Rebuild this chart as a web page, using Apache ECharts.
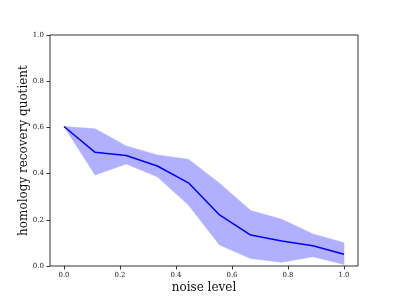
<!DOCTYPE html>
<html>
<head>
<meta charset="utf-8">
<script src="https://cdn.jsdelivr.net/npm/echarts@6/dist/echarts.min.js"></script>
<style>html,body{margin:0;padding:0;background:#fff}#c{width:399px;height:299px}</style>
</head>
<body>
<div id="c"></div>
<script>
const noiseLevels = [0, 0.1111, 0.2222, 0.3333, 0.4444, 0.5556, 0.6667, 0.7778, 0.8889, 1.0];
const meanValues  = [0.604, 0.492, 0.478, 0.433, 0.360, 0.221, 0.134, 0.108, 0.088, 0.051];
const upperValues = [0.604, 0.594, 0.520, 0.481, 0.462, 0.358, 0.240, 0.202, 0.139, 0.101];
const lowerValues = [0.604, 0.394, 0.442, 0.386, 0.264, 0.091, 0.032, 0.016, 0.040, 0.007];
const xTicks = [0, 0.2, 0.4, 0.6, 0.8, 1.0];

const font = 'DejaVu Serif';
const chart = echarts.init(document.getElementById('c'), null, {renderer: 'canvas'});
chart.setOption({
  animation: false,
  grid: {left: 50, right: 41, top: 35, bottom: 33, show: true, borderColor: '#000', borderWidth: 0.8, backgroundColor: 'transparent'},
  xAxis: {
    type: 'value', min: -0.05, max: 1.05,
    name: 'noise level', nameLocation: 'middle', nameGap: 16, nameMoveOverlap: false,
    nameTextStyle: {fontFamily: font, fontSize: 12, color: '#111'},
    axisLine: {show: false, onZero: false},
    splitLine: {show: false},
    axisTick: {show: true, inside: false, length: 3.5, lineStyle: {color: '#000', width: 0.8}, customValues: xTicks},
    axisLabel: {fontFamily: font, fontSize: 7, color: '#222', margin: 6, customValues: xTicks, formatter: v => v.toFixed(1)}
  },
  yAxis: {
    type: 'value', min: 0, max: 1, interval: 0.2,
    name: 'homology recovery quotient', nameLocation: 'middle', nameGap: 20, nameMoveOverlap: false,
    nameTextStyle: {fontFamily: font, fontSize: 12, color: '#111'},
    axisLine: {show: false, onZero: false},
    splitLine: {show: false},
    axisTick: {show: true, inside: false, length: 3.5, lineStyle: {color: '#000', width: 0.8}},
    axisLabel: {fontFamily: font, fontSize: 7, color: '#222', margin: 6, formatter: v => v.toFixed(1)}
  },
  series: [
    {
      type: 'custom', silent: true, z: 1,
      data: [0],
      renderItem: function (params, api) {
        const pts = [];
        for (let i = 0; i < noiseLevels.length; i++) pts.push(api.coord([noiseLevels[i], upperValues[i]]));
        for (let i = noiseLevels.length - 1; i >= 0; i--) pts.push(api.coord([noiseLevels[i], lowerValues[i]]));
        return {type: 'polygon', shape: {points: pts}, style: {fill: 'rgb(176,176,255)', stroke: 'rgb(176,176,255)', lineWidth: 0.5}};
      }
    },
    {
      type: 'line', symbol: 'none', z: 3,
      lineStyle: {color: '#0000ff', width: 1.5},
      data: noiseLevels.map((x, i) => [x, meanValues[i]])
    }
  ]
});
</script>
</body>
</html>
